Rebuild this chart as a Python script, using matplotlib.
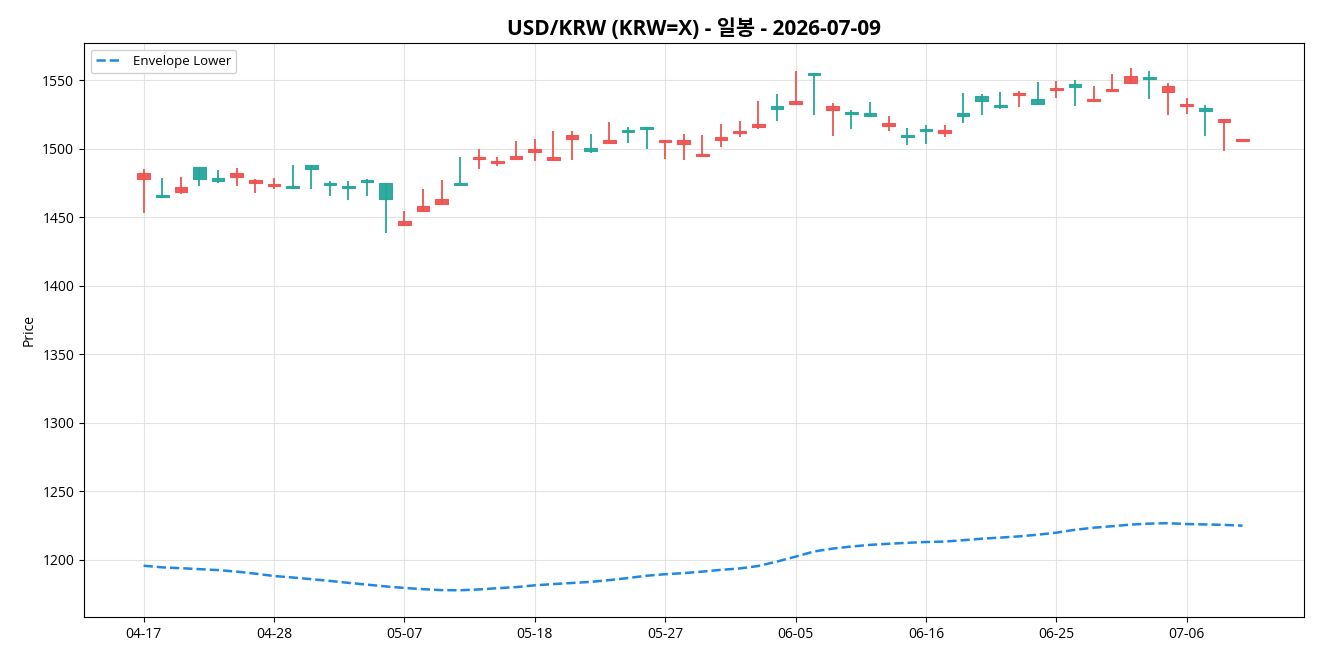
import matplotlib
matplotlib.use("Agg")
import matplotlib.pyplot as plt
from matplotlib.patches import Rectangle

plt.rcParams['font.family'] = ['Open Sans', 'Noto Sans CJK KR', 'DejaVu Sans']

dates = ["04-17", "04-20", "04-21", "04-22", "04-23", "04-24", "04-27", "04-28", "04-29", "04-30",
         "05-01", "05-04", "05-05", "05-06", "05-07", "05-08", "05-11", "05-12", "05-13", "05-14",
         "05-15", "05-18", "05-19", "05-20", "05-21", "05-22", "05-25", "05-26", "05-27", "05-28",
         "05-29", "06-01", "06-02", "06-03", "06-04", "06-05", "06-08", "06-09", "06-10", "06-11",
         "06-12", "06-15", "06-16", "06-17", "06-18", "06-19", "06-22", "06-23", "06-24", "06-25",
         "06-26", "06-29", "06-30", "07-01", "07-02", "07-03", "07-06", "07-07", "07-08", "07-09"]

opens = [1477.6, 1466.1, 1468.6, 1486.3, 1478.3, 1479.5, 1474.7, 1472.5, 1472.7, 1488.0,
         1474.9, 1472.7, 1477.3, 1474.9, 1444.1, 1454.7, 1459.8, 1475.1, 1492.4, 1489.5,
         1492.6, 1497.3, 1491.9, 1507.2, 1500.2, 1504.3, 1513.5, 1515.5, 1505.0, 1503.1,
         1494.6, 1506.5, 1511.1, 1516.0, 1531.0, 1532.7, 1554.9, 1528.3, 1526.7, 1525.9,
         1516.7, 1509.9, 1514.3, 1511.1, 1525.9, 1538.3, 1531.8, 1538.8, 1536.1, 1542.5,
         1547.1, 1534.9, 1541.8, 1548.0, 1552.2, 1541.5, 1530.8, 1529.4, 1519.6, 1505.3]
highs = [1485.1, 1478.5, 1479.3, 1486.5, 1484.4, 1485.8, 1477.6, 1478.5, 1488.2, 1488.0,
         1476.4, 1476.4, 1477.8, 1474.9, 1454.5, 1470.5, 1477.1, 1494.1, 1499.7, 1493.9,
         1505.7, 1507.0, 1512.8, 1512.8, 1510.6, 1519.4, 1515.7, 1515.5, 1506.3, 1510.6,
         1509.9, 1517.9, 1520.1, 1534.9, 1540.0, 1556.8, 1554.9, 1533.5, 1528.1, 1534.0,
         1523.8, 1515.0, 1517.2, 1517.2, 1540.7, 1539.8, 1541.3, 1542.0, 1548.5, 1549.5,
         1550.0, 1545.6, 1554.4, 1558.8, 1556.6, 1547.8, 1536.9, 1531.8, 1521.3, 1507.0]
lows = [1453.2, 1464.2, 1466.7, 1472.9, 1475.1, 1472.9, 1467.8, 1470.3, 1470.7, 1470.7,
        1465.6, 1462.7, 1465.6, 1438.7, 1444.1, 1454.7, 1459.8, 1473.4, 1485.1, 1487.5,
        1492.6, 1491.2, 1491.9, 1491.7, 1497.0, 1504.3, 1504.3, 1499.9, 1492.4, 1491.7,
        1494.6, 1501.4, 1508.7, 1514.5, 1520.1, 1532.3, 1524.7, 1509.2, 1514.3, 1522.8,
        1512.8, 1502.8, 1503.6, 1508.7, 1518.6, 1524.5, 1528.9, 1530.5, 1532.7, 1537.1,
        1531.3, 1534.2, 1541.8, 1548.0, 1536.4, 1524.7, 1525.4, 1509.4, 1498.5, 1505.3]
closes = [1482.0, 1464.9, 1471.8, 1477.6, 1476.6, 1482.2, 1476.9, 1474.2, 1471.5, 1484.9,
          1473.2, 1471.5, 1475.6, 1463.0, 1447.2, 1458.1, 1463.2, 1473.4, 1493.9, 1490.9,
          1494.6, 1499.5, 1493.9, 1509.9, 1498.5, 1506.3, 1512.3, 1514.1, 1506.3, 1506.3,
          1495.8, 1508.2, 1512.8, 1517.9, 1529.1, 1534.7, 1553.9, 1531.0, 1525.0, 1524.0,
          1518.6, 1508.7, 1513.0, 1513.5, 1524.0, 1534.9, 1530.1, 1540.5, 1532.7, 1544.2,
          1544.7, 1536.1, 1543.4, 1552.9, 1550.9, 1545.6, 1532.5, 1527.6, 1521.3, 1507.0]

envelope_lower = [1195.8, 1194.6, 1194.0, 1193.3, 1192.6, 1191.5, 1190.0, 1188.3, 1187.2, 1186.0,
                  1184.7, 1183.3, 1182.0, 1180.7, 1179.6, 1178.7, 1178.0, 1177.9, 1178.5, 1179.4,
                  1180.2, 1181.5, 1182.4, 1183.2, 1184.0, 1185.3, 1186.8, 1188.5, 1189.6, 1190.4,
                  1191.5, 1192.8, 1193.8, 1195.6, 1198.8, 1202.4, 1206.2, 1208.3, 1209.8, 1211.0,
                  1211.8, 1212.5, 1213.1, 1213.4, 1214.4, 1215.5, 1216.3, 1217.2, 1218.4, 1219.9,
                  1222.0, 1223.5, 1224.6, 1225.8, 1226.5, 1226.8, 1226.2, 1225.9, 1225.6, 1225.0]

UP = '#ef5350'
DOWN = '#26a69a'

fig = plt.figure(figsize=(13.2, 6.6), dpi=100)
ax = fig.add_axes([84 / 1320, 1 - 617 / 660, (1304 - 84) / 1320, (617 - 43) / 660])

x = list(range(len(dates)))
body_w = 0.68
for i in x:
    o, h, l, c = opens[i], highs[i], lows[i], closes[i]
    col = UP if c >= o else DOWN
    ax.vlines(i, l, h, color=col, linewidth=1.3, zorder=3)
    bottom = min(o, c)
    height = max(abs(c - o), 0.6)
    ax.add_patch(Rectangle((i - body_w / 2, bottom), body_w, height,
                           facecolor=col, edgecolor=col, linewidth=0.8, alpha=0.95, zorder=4))

ax.plot(x, envelope_lower, linestyle='--', color='#1e88e5', linewidth=1.8,
        label='Envelope Lower', zorder=5)

ax.set_xlim(-3.2, 62.3)
ax.set_ylim(1158.4, 1577.0)
ticks = list(range(0, len(dates), 7))
ax.set_xticks(ticks)
ax.set_xticklabels([dates[t] for t in ticks])
ax.set_yticks([1200, 1250, 1300, 1350, 1400, 1450, 1500, 1550])
ax.tick_params(labelsize=10)
ax.grid(True, color='#dddddd', linewidth=0.8, alpha=0.8)
ax.set_axisbelow(True)
ax.set_ylabel('Price', fontsize=10)
ax.set_title('USD/KRW (KRW=X) - 일봉 - 2026-07-09', fontsize=15, fontweight='bold', pad=6)
ax.legend(loc='upper left', fontsize=9.5, framealpha=0.9)

fig.savefig('out.png', dpi=100)
